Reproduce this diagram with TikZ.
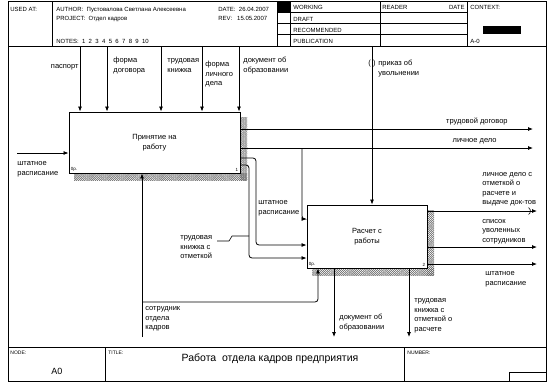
\documentclass[tikz,border=0pt]{standalone}
\usepackage{fontspec}
\setmainfont{Liberation Sans}
\usetikzlibrary{arrows.meta,patterns.meta}

\begin{document}
\begin{tikzpicture}[x=1pt,y=-1pt,
  line width=0.8pt,
  frame/.style={line width=0.6pt},
  hdr/.style={font=\fontsize{6}{7}\selectfont, inner sep=0pt, anchor=base west},
  lbl/.style={font=\fontsize{7.5}{9.5}\selectfont, inner sep=0pt, align=left, anchor=base west},
  box/.style={draw, line width=0.9pt, font=\fontsize{7.5}{9.5}\selectfont, align=center, inner sep=0pt},
  arr/.style={-{Latex[length=5pt,width=4pt]}, line width=0.8pt},
  rnd/.style={rounded corners=3pt},
  shA/.style={pattern={Lines[angle=45,distance=1.5pt,line width=0.35pt]}, pattern color=black!60},
  shB/.style={pattern={Lines[angle=-45,distance=1.5pt,line width=0.35pt]}, pattern color=black!60},
  tinyl/.style={font=\fontsize{4.5}{5}\selectfont, inner sep=0pt}
]
\useasboundingbox (0,0) rectangle (554,384);

% ---------- frame, header, footer ----------
\draw[frame] (8,1) rectangle (546,381);
\draw[frame] (8,46) -- (546,46);
\draw[frame] (52,1) -- (52,46);
\draw[frame] (277,1) -- (277,46);
\draw[frame] (290,1) -- (290,46);
\draw[frame] (380,1) -- (380,46);
\draw[frame] (467,1) -- (467,46);
\foreach \yy in {12,23,34} \draw[frame] (277,\yy) -- (467,\yy);
\fill (277,1) rectangle (290,12);
\fill (483,26) rectangle (521,34);
\draw[frame] (8,347) -- (546,347);
\draw[frame] (105,347) -- (105,381);
\draw[frame] (404,347) -- (404,381);
\draw[frame] (509,372) rectangle (546,381);

\node[hdr] (hused) at (10,11) {USED AT:};
\node[hdr] (hauth) at (56,11) {AUTHOR:\ \ Пустовалова Светлана Алексеевна};
\node[hdr] (hproj) at (56,20) {PROJECT:\ \ Отдел кадров};
\node[hdr] (hnotes) at (56,43.5) {NOTES:\ \ 1\ \ 2\ \ 3\ \ 4\ \ 5\ \ 6\ \ 7\ \ 8\ \ 9\ \ 10};
\node[hdr] (hdate) at (218,11) {DATE:\ \ 26.04.2007};
\node[hdr] (hrev) at (218,20) {REV:\ \ \ 15.05.2007};
\node[hdr] (hwork) at (293,9.5) {WORKING};
\node[hdr] (hdraft) at (293,21) {DRAFT};
\node[hdr] (hrec) at (293,32) {RECOMMENDED};
\node[hdr] (hpub) at (293,43.5) {PUBLICATION};
\node[hdr] (hread) at (382,9.5) {READER};
\node[hdr, anchor=base east] (hrdate) at (465,9.5) {DATE};
\node[hdr] (hctx) at (470,9.5) {CONTEXT:};
\node[hdr] (hctxn) at (470,43.5) {A-0};

\node[hdr, font=\fontsize{5}{6}\selectfont] (fnode) at (10,354) {NODE:};
\node[hdr, font=\fontsize{5}{6}\selectfont] (ftitle) at (108,354) {TITLE:};
\node[hdr, font=\fontsize{5}{6}\selectfont] (fnum) at (407,354) {NUMBER:};
\node[hdr, font=\fontsize{9}{10}\selectfont] (fa0) at (51,374) {A0};
\node[font=\fontsize{10.5}{12}\selectfont, inner sep=0pt, anchor=base] (ftext) at (270,361) {Работа\ \ отдела кадров предприятия};

% ---------- shadows ----------
\fill[shA] (240,117) rectangle (247,180);
\fill[shB] (240,117) rectangle (247,180);
\fill[shA] (74,173) rectangle (247,180);
\fill[shB] (74,173) rectangle (247,180);
\fill[shA] (427,210) rectangle (434,275);
\fill[shB] (427,210) rectangle (434,275);
\fill[shA] (312,268) rectangle (434,275);
\fill[shB] (312,268) rectangle (434,275);

% ---------- boxes ----------
\node[box, minimum width=171pt, minimum height=61pt, fill=white] (b1) at (154.5,142.5) {Принятие на\\работу};
\node[box, minimum width=120pt, minimum height=63pt, fill=white] (b2) at (367,236.5) {Расчет с\\работы};
\node[tinyl, anchor=south west] (b1c) at ([shift={(2,-1.5)}]b1.south west) {0р.};
\node[tinyl, anchor=south east] (b1n) at ([shift={(-2,-1.5)}]b1.south east) {1};
\node[tinyl, anchor=south west] (b2c) at ([shift={(2,-1.5)}]b2.south west) {0р.};
\node[tinyl, anchor=south east] (b2n) at ([shift={(-2,-1.5)}]b2.south east) {2};

% ---------- controls ----------
\foreach \n/\xx in {c1/80,c2/107,c3/161,c4/202,c5/239} {
  \coordinate (\n) at (\xx,47);
  \draw[arr] (\n) -- (\n |- b1.north);
}
\coordinate (c6) at (372,47);
\draw[arr] (c6) -- (c6 |- b2.north);

% (multi-line labels: base anchor = baseline of the last line)
\node[lbl, anchor=base east] (lc1) at (79,68.5) {паспорт};
\node[lbl] (lc2) at (113,72) {форма\\договора};
\node[lbl] (lc3) at (167,72) {трудовая\\книжка};
\node[lbl] (lc4) at (205,85.5) {форма\\личного\\дела};
\node[lbl] (lc5) at (243,72) {документ об\\образовании};
\node[lbl, anchor=base east] (tpl) at (371.2,65.5) {(};
\node[lbl] (tpr) at (372.8,65.5) {)};
\node[lbl] (lc6) at (378,75) {приказ об\\увольнении};

% ---------- input ----------
\coordinate (i1) at (17,153);
\draw[arr] (i1) -- (i1 -| b1.west);
\node[lbl] (li1) at (17,175) {штатное\\расписание};

% ---------- outputs of box 1 ----------
\coordinate (o1) at (533,129);
\coordinate (o2) at (533,148);
\draw[arr] (o1 -| b1.east) -- (o1);
\draw[arr] (o2 -| b1.east) -- (o2);
\node[lbl, anchor=base east] (lo1) at (508,123.5) {трудовой договор};
\node[lbl, anchor=base east] (lo2) at (497,142.5) {личное дело};

\coordinate (k1) at (302,148);
\coordinate (k1b) at (302,219);
\draw[arr, rnd] (k1) -- (k1b) -- (k1b -| b2.west);
\node[lbl] (lk1) at (258,214) {штатное\\расписание};

\coordinate (k2a) at (256,158);
\coordinate (k2b) at (256,245);
\draw[arr, rnd] (k2a -| b1.east) -- (k2a) -- (k2b) -- (k2b -| b2.west);

\coordinate (k3a) at (249,165);
\coordinate (k3b) at (249,258);
\draw[arr, rnd] (k3a -| b1.east) -- (k3a) -- (k3b) -- (k3b -| b2.west);

\node[lbl] (lk3) at (180,258.5) {трудовая\\книжка с\\отметкой};
\coordinate (sq0) at (217,241);
\coordinate (sq1) at (249,236);
\draw[line width=0.6pt] (sq0) -- (229,241) -- (232,236) -- (sq1);

% ---------- mechanisms ----------
\coordinate (m1) at (142,337);
\draw[arr] (m1) -- (m1 |- b1.south);
\coordinate (m1b) at (142,302);
\coordinate (m2) at (318,302);
\draw[arr, rnd] (m1b) -- (m2) -- (m2 |- b2.south);
\node[lbl] (lm1) at (145,329.5) {сотрудник\\отдела\\кадров};

% ---------- outputs of box 2 ----------
\coordinate (p1) at (537,211);
\coordinate (p2) at (537,247);
\coordinate (p3) at (537,264);
\draw[arr] (p1 -| b2.east) -- (p1);
\draw[line width=0.6pt] (528.5,207.5) arc[start angle=60, end angle=-60, radius=4pt];
\draw[arr] (p2 -| b2.east) -- (p2);
\draw[arr] (p3 -| b2.east) -- (p3);
\node[lbl] (lp1) at (482,204.5) {личное дело с\\отметкой о\\расчете и\\выдаче док-тов};
\node[lbl] (lp2) at (482,242) {список\\уволенных\\сотрудников};
\node[lbl] (lp3) at (485,285) {штатное\\расписание};

\coordinate (q1) at (334,337);
\coordinate (q2) at (409,337);
\draw[arr] (q1 |- b2.south) -- (q1);
\draw[arr] (q2 |- b2.south) -- (q2);
\node[lbl] (lq1) at (339,329) {документ об\\образовании};
\node[lbl] (lq2) at (414,331) {трудовая\\книжка с\\отметкой о\\расчете};

\end{tikzpicture}
\end{document}
